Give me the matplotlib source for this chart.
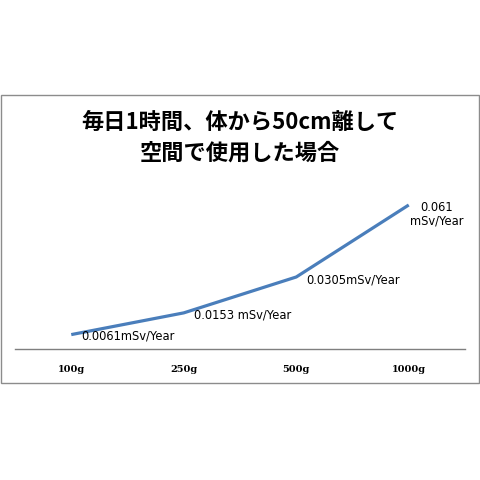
import matplotlib.pyplot as plt
from matplotlib.patches import Rectangle

categories = ["100g", "250g", "500g", "1000g"]
values = [0.0061, 0.0153, 0.0305, 0.061]
point_labels = ["0.0061mSv/Year", "0.0153 mSv/Year", "0.0305mSv/Year", "0.061\nmSv/Year"]
title = "毎日1時間、体から50cm離して\n空間で使用した場合"

W = H = 481
fig = plt.figure(figsize=(W / 100, H / 100), dpi=100)

# outer chart frame
fig.patches.append(Rectangle((0.5 / W, 1 - 384 / H), 479 / W, 288 / H,
                             transform=fig.transFigure, fill=False,
                             edgecolor="#8c8c8c", linewidth=1.0))

# plot area: x 15..465, y top 175 .. bottom 350 (pixels from top)
ax = fig.add_axes([15 / W, 1 - 350 / H, 450 / W, 175 / H])
ax.set_xlim(-0.5, len(categories) - 0.5)
ax.set_ylim(0, 175 / 2361)
x = range(len(categories))
ax.plot(x, values, color="#4a7ebb", linewidth=2.3, solid_capstyle="butt")

for s in ["top", "right", "left"]:
    ax.spines[s].set_visible(False)
ax.spines["bottom"].set_color("#7f7f7f")
ax.spines["bottom"].set_linewidth(1.0)
ax.set_yticks([])
ax.set_xticks(list(x))
ax.set_xticklabels(categories, fontsize=7, fontweight="bold", family="DejaVu Serif")
ax.tick_params(axis="x", length=0, pad=11)

offsets = [(10, 0), (10, -1), (10, -2), (28, 0)]
for i, (v, lab) in enumerate(zip(values, point_labels)):
    if "\n" in lab:
        ax.annotate(lab, (i, v), xytext=(offsets[i][0], offsets[i][1] + 5),
                    textcoords="offset pixels", ha="center", va="top",
                    fontsize=8.3, linespacing=1.05, family="DejaVu Sans")
    else:
        ax.annotate(lab, (i, v), xytext=offsets[i], textcoords="offset pixels",
                    ha="left", va="center", fontsize=8.3, family="DejaVu Sans")

fig.text(240 / W, 1 - 138 / H, title, ha="center", va="center",
         fontsize=16, fontweight="bold", linespacing=1.45,
         family=["Noto Sans CJK JP", "DejaVu Sans"])

fig.savefig("out.png", dpi=100)
